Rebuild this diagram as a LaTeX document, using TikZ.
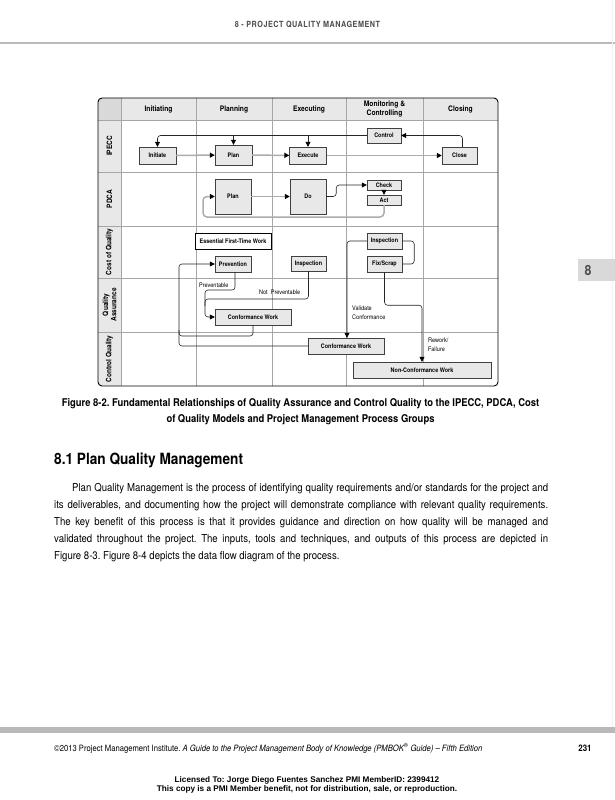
\documentclass[tikz,border=0pt]{standalone}
\usepackage{fontspec}
\setmainfont{TeX Gyre Heros}[FakeStretch=0.88]
\newfontfamily\headfont{TeX Gyre Heros}[FakeStretch=0.85, LetterSpace=6]
\newfontfamily\licfont{Liberation Sans}
\usetikzlibrary{arrows.meta, positioning}
\frenchspacing

\begin{document}
\begin{tikzpicture}[x=1pt, y=-1pt,
    box/.style={rectangle, draw=black!75, fill=gray!18, inner sep=0pt, minimum width=36pt, minimum height=17pt, font=\fontsize{6.2}{7}\selectfont\bfseries},
    hdr/.style={align=center, inner sep=0pt, font=\fontsize{7.6}{8.4}\selectfont\bfseries},
    side/.style={rotate=90, align=center, inner sep=0pt, font=\fontsize{7.4}{8.2}\selectfont\bfseries},
    note/.style={anchor=west, align=left, inner sep=0pt, font=\fontsize{6.3}{9.5}\selectfont},
    gridline/.style={draw=gray!70, line width=0.6pt},
    flow/.style={draw=gray!65, line width=1.5pt, -{Triangle[length=5pt, width=5pt, color=black]}},
    link/.style={draw=black!85, line width=0.6pt, rounded corners=3pt},
    arr/.style={link, -{Triangle[length=5pt, width=5pt, color=black]}}
]
\useasboundingbox (0,0) rectangle (615,800);

% page head
\node[font=\headfont\fontsize{8.5}{10}\selectfont\bfseries, text=black!70] (runhead) at (307.5,25) {8 - PROJECT QUALITY MANAGEMENT};
\fill[gray!55] (0,42.5) rectangle (615,44.5);
\draw[gray!10] (612,0) -- (612,727);
\fill[gray!30] (578,259) rectangle (615,281);
\node[font=\fontsize{14}{16}\selectfont\bfseries, text=black!70] (tab) at (588,270) {8};

% grid
\begin{scope}
\clip[rounded corners=4pt] (98,98) rectangle (498,386);
\fill[gray!18] (98,98) rectangle (498,120);
\fill[gray!18] (98,98) rectangle (121,386);
\fill[gray!30] (98,98) rectangle (121,120);
\end{scope}
\draw[gridline] (121,98) -- (121,386);
\draw[gridline] (196,98) -- (196,386);
\draw[gridline] (272,98) -- (272,386);
\draw[gridline] (346,98) -- (346,386);
\draw[gridline] (423,98) -- (423,386);
\draw[gridline] (98,120) -- (498,120);
\draw[gridline] (98,172) -- (498,172);
\draw[gridline] (98,226) -- (498,226);
\draw[gridline] (98,278) -- (498,278);
\draw[gridline] (98,332) -- (498,332);
\draw[line width=0.9pt, rounded corners=4pt] (98,98) rectangle (498,386);

\node[hdr] (hinit) at (158.5,109) {Initiating};
\node[hdr] (hplan) at (234,109) {Planning};
\node[hdr] (hexec) at (309,109) {Executing};
\node[hdr] (hmon) at (384.5,109) {Monitoring \&\\Controlling};
\node[hdr] (hclose) at (460.5,109) {Closing};

\node[side] (ripecc) at (109.5,146) {IPECC};
\node[side] (rpdca) at (109.5,199) {PDCA};
\node[side] (rcost) at (109.5,252) {Cost of Quality};
\node[side] (rqa) at (109.5,305) {Quality\\Assurance};
\node[side] (rcq) at (109.5,359) {Control Quality};

% IPECC
\node[box, minimum width=37pt] (initiate) at (157.5,155.5) {Initiate};
\node[box, minimum width=37pt, minimum height=20pt] (ipeccplan) at (233.5,155) {Plan};
\node[box, minimum width=37pt] (execute) at (308,155.5) {Execute};
\node[box, minimum width=34pt, minimum height=15pt] (control) at (384,135.5) {Control};
\node[box, minimum width=35pt] (close) at (459.5,155.5) {Close};
\draw[flow] (initiate) -- (ipeccplan);
\draw[flow] (ipeccplan) -- (execute);
\draw[flow] (execute) -- (close);
\draw[arr] ([xshift=3pt]close.north) |- (control.east);
\draw[arr] (control.west) -| (initiate.north);
\draw[arr] (ipeccplan.north |- control.west) -- (ipeccplan.north);
\draw[arr] (execute.north |- control.west) -- (execute.north);

% PDCA
\node[box, minimum height=35pt] (pdcaplan) at (233,196.5) {Plan};
\node[box, minimum height=35pt] (do) at (308,196.5) {Do};
\node[box, minimum width=34pt, minimum height=10pt] (check) at (384,185) {Check};
\node[box, minimum width=34pt, minimum height=10pt] (act) at (384,200) {Act};
\draw[flow] (pdcaplan) -- (do);
\draw[arr] (do.east) -- ++(10,0) |- (check.west);
\draw[arr] (check) -- (act);
\draw[flow, rounded corners=4pt] (act.south) |- (203,217) |- (pdcaplan.west);

% cost of quality
\node[box, fill=white, draw=black, minimum width=76pt, minimum height=16pt] (eftw) at (233,241) {Essential First-Time Work};
\node[box, minimum height=16pt] (prevent) at (233,264) {Prevention};
\node[box, minimum width=35pt, minimum height=15pt] (inspect1) at (308.5,263.5) {Inspection};
\node[box, minimum width=35pt, minimum height=16pt] (inspect2) at (384.5,241) {Inspection};
\node[box, minimum width=35pt, minimum height=16pt] (fixscrap) at (384.5,264) {Fix/Scrap};

% quality assurance and control quality
\node[box, minimum width=76pt, minimum height=16pt] (conf1) at (253,317) {Conformance Work};
\node[box, minimum width=76pt, minimum height=16pt] (conf2) at (346,346) {Conformance Work};
\node[box, minimum width=138pt, minimum height=16pt] (nonconf) at (422,370) {Non-Conformance Work};

\draw[link] (inspect2.east) -- ++(12,0) |- (fixscrap.east);
\draw[arr] (inspect2.west) -| ([xshift=1pt]conf2.north);
\draw[arr] (fixscrap.south) -- ++(0,33) -| (nonconf.north);
\draw[arr] (conf1.south) |- (179,336) |- (prevent.west);
\draw[link] (conf2.west) -| (179,330);
\draw[arr] ([xshift=2pt]prevent.south) |- (205,290) |- (conf1.west);
\draw[link] (inspect1.south) |- (205,299) -- (205,306);

\node[note] (lblprev) at (199,285) {Preventable};
\node[note] (lblnotprev) at (259,292) {Not\ \ Preventable};
\node[note] (lblvalid) at (352,313) {Validate\\Conformance};
\node[note] (lblrework) at (428,344.5) {Rework/\\Failure};

% caption and text
\node[align=center, font=\fontsize{10.7}{16}\selectfont\bfseries] (caption) at (300.5,412) {Figure 8-2. Fundamental Relationships of Quality Assurance and Control Quality to the IPECC, PDCA, Cost\\of Quality Models and Project Management Process Groups};
\node[anchor=west, inner sep=0pt, font=\fontsize{15.5}{18}\selectfont\bfseries] (sect) at (54,460) {8.1 Plan Quality Management};
\node[anchor=north west, inner sep=0pt, text width=494pt, align=justify, font=\fontsize{10.9}{17}\selectfont] (body) at (54,483) {\hspace*{18pt}Plan Quality Management is the process of identifying quality requirements and/or standards for the project and\linebreak its deliverables, and documenting how the project will demonstrate compliance with relevant quality requirements.\linebreak The key benefit of this process is that it provides guidance and direction on how quality will be managed and\linebreak validated throughout the project. The inputs, tools and techniques, and outputs of this process are depicted in\linebreak Figure 8-3. Figure 8-4 depicts the data flow diagram of the process.};

% page foot
\fill[gray!55] (0,727) rectangle (615,733);
\node[anchor=west, inner sep=0pt, font=\fontsize{8.7}{9}\selectfont] (foot) at (54,748) {\textcopyright 2013 Project Management Institute. \textit{A Guide to the Project Management Body of Knowledge (PMBOK\textsuperscript{\textregistered} Guide) -- Fifth Edition}};
\node[font=\fontsize{9}{10}\selectfont\bfseries] (pageno) at (585,748) {231};
\node[align=center, inner sep=0pt, font=\licfont\fontsize{8.2}{8.6}\selectfont\bfseries] (lic) at (307,785) {Licensed To: Jorge Diego Fuentes Sanchez PMI MemberID: 2399412\\This copy is a PMI Member benefit, not for distribution, sale, or reproduction.};
\end{tikzpicture}
\end{document}
